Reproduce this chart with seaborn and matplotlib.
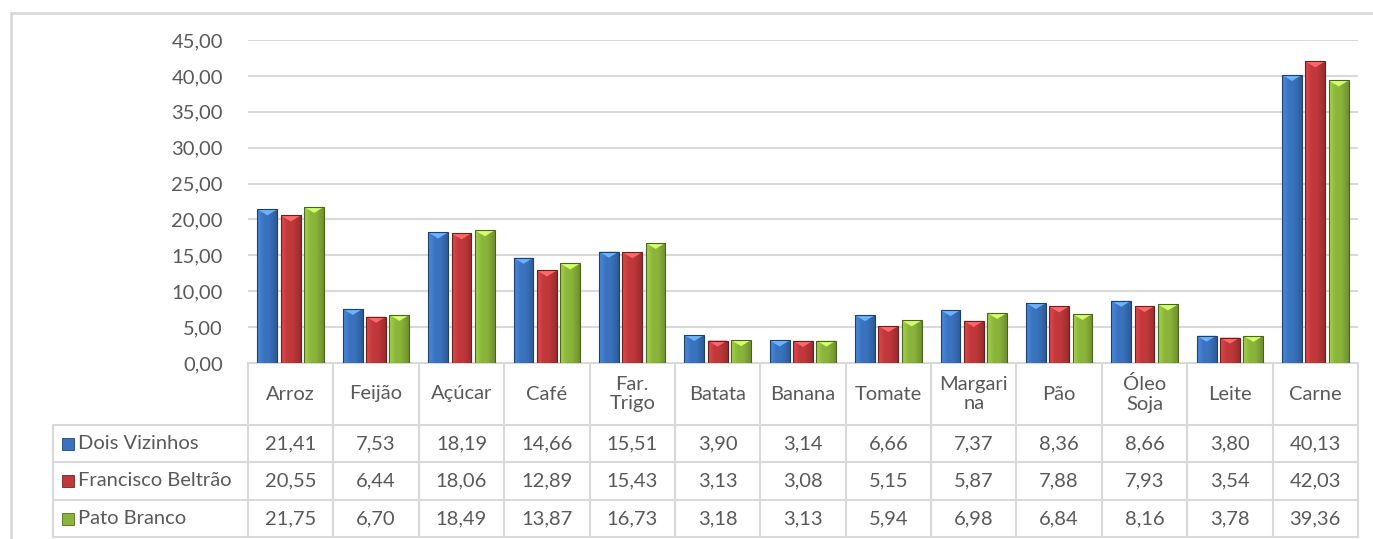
import numpy as np
import pandas as pd
import matplotlib
matplotlib.use("Agg")
import matplotlib.pyplot as plt
import matplotlib.transforms as mtransforms
from matplotlib.lines import Line2D
from matplotlib.patches import Rectangle, Polygon
from matplotlib.colors import to_rgb
import seaborn as sns

# data
produtos = ["Arroz", "Feijão", "Açúcar", "Café", "Far.\nTrigo", "Batata", "Banana",
            "Tomate", "Margari\nna", "Pão", "Óleo\nSoja", "Leite", "Carne"]
cidades = ["Dois Vizinhos", "Francisco Beltrão", "Pato Branco"]
dois_vizinhos = [21.41, 7.53, 18.19, 14.66, 15.51, 3.90, 3.14, 6.66, 7.37, 8.36, 8.66, 3.80, 40.13]
francisco_beltrao = [20.55, 6.44, 18.06, 12.89, 15.43, 3.13, 3.08, 5.15, 5.87, 7.88, 7.93, 3.54, 42.03]
pato_branco = [21.75, 6.70, 18.49, 13.87, 16.73, 3.18, 3.13, 5.94, 6.98, 6.84, 8.16, 3.78, 39.36]
y_ticks = [0, 5, 10, 15, 20, 25, 30, 35, 40, 45]

cores = ["#3A72BE", "#C0383A", "#8AB43A"]
cor_texto = "#595959"
cor_linha = "#D9D9D9"
fs = 14.5

W, H = 1373, 539

df = pd.DataFrame({
    "produto": produtos * 3,
    "cidade": [c for c in cidades for _ in produtos],
    "valor": dois_vizinhos + francisco_beltrao + pato_branco,
})

sns.set_style("white")
plt.rcParams["font.family"] = ["Lato", "DejaVu Sans"]

fig = plt.figure(figsize=(W / 100, H / 100), dpi=100)

def fx(px):
    return px / W

def fy(py):
    return 1 - py / H

ax = fig.add_axes([fx(248), fy(363), fx(1358) - fx(248), fy(40) - fy(363)])
sns.barplot(data=df, x="produto", y="valor", hue="cidade", palette=cores,
            width=0.82, gap=0.15, ax=ax, legend=False, saturation=1)

ax.set_xlim(-0.5, len(produtos) - 0.5)
ax.set_ylim(0, 45)
px_y = 45 / 323  # data units per pixel vertically

# gradient / bevel look on the bars
for patch in list(ax.patches):
    base = np.array(to_rgb(patch.get_facecolor()))
    light = np.clip(base * 1.2 + 0.06, 0, 1)
    dark = base * 0.72
    t = np.linspace(0, 1, 32)
    prof = np.where(t < 0.35, 1 - t / 0.35, 0) * 0.6 - np.where(t > 0.6, (t - 0.6) / 0.4, 0) * 0.7
    cols = np.array([base + p * (light - base) if p >= 0 else base + (-p) * (dark - base) for p in prof])
    img = cols[np.newaxis, :, :]
    x0, y0 = patch.get_x(), patch.get_y()
    w, h = patch.get_width(), patch.get_height()
    im = ax.imshow(img, extent=[x0, x0 + w, y0, y0 + h], aspect="auto", zorder=3,
                   interpolation="bilinear")
    im.set_clip_path(patch)
    # light bevel triangle at the top
    tri_h = min(6 * px_y, h)
    ax.add_patch(Polygon([[x0, y0 + h], [x0 + w, y0 + h], [x0 + w / 2, y0 + h - tri_h]],
                         closed=True, facecolor=tuple(np.clip(base * 1.3 + 0.12, 0, 1)),
                         edgecolor="none", zorder=3.5))
    patch.set_edgecolor(tuple(base * 0.55))
    patch.set_linewidth(0.8)
    patch.set_zorder(4)
    patch.set_facecolor("none")

ax.set_yticks(y_ticks)
ax.set_yticklabels([f"{v:.2f}".replace(".", ",") for v in y_ticks], fontsize=fs, color=cor_texto)
ax.tick_params(axis="y", length=0, pad=18)
ax.set_xticks([])
ax.set_xlabel("")
ax.set_ylabel("")
ax.grid(axis="y", color=cor_linha, linewidth=1.5, zorder=0)
ax.set_axisbelow(True)
for s in ax.spines.values():
    s.set_visible(False)

# data table under the bars
tr = mtransforms.blended_transform_factory(ax.transData, fig.transFigure)
n = len(produtos)
y_top, y_head, y_bot = 363, 425, 537
row_lines = [425, 462, 500, 537]

def hline(x0, x1, py, trans):
    ax.add_artist(Line2D([x0, x1], [fy(py), fy(py)], transform=trans, color=cor_linha,
                         lw=1.5, clip_on=False))

hline(-0.5, n - 0.5, y_top, tr)
for py in row_lines:
    hline(-0.5, n - 0.5, py, tr)
for i in range(n + 1):
    ax.add_artist(Line2D([i - 0.5, i - 0.5], [fy(y_top), fy(y_bot)], transform=tr,
                         color=cor_linha, lw=1.5, clip_on=False))

# label column
for py in row_lines:
    fig.add_artist(Line2D([fx(53), fx(248)], [fy(py), fy(py)], color=cor_linha, lw=1.5))
fig.add_artist(Line2D([fx(53), fx(53)], [fy(425), fy(537)], color=cor_linha, lw=1.5))

for i, p in enumerate(produtos):
    ax.text(i, fy((y_top + y_head) / 2), p, transform=tr, ha="center", va="center",
            fontsize=fs, color=cor_texto, linespacing=1.2, clip_on=False)

series = [dois_vizinhos, francisco_beltrao, pato_branco]
for r, (nome, vals, cor) in enumerate(zip(cidades, series, cores)):
    yc = (row_lines[r] + row_lines[r + 1]) / 2
    fig.add_artist(Rectangle((fx(62), fy(yc + 6)), fx(12), fy(0) - fy(12), facecolor=cor,
                             edgecolor=tuple(np.array(to_rgb(cor)) * 0.6), lw=0.6))
    fig.text(fx(78), fy(yc), nome, ha="left", va="center", fontsize=fs, color=cor_texto)
    for i, v in enumerate(vals):
        ax.text(i, fy(yc), f"{v:.2f}".replace(".", ","), transform=tr, ha="center",
                va="center", fontsize=fs, color=cor_texto, clip_on=False)

# outer chart frame (cropped at right and bottom)
fig.add_artist(Rectangle((fx(11), fy(560)), fx(1400) - fx(11), fy(13) - fy(560),
                         facecolor="none", edgecolor="#D9D9D9", lw=2))

fig.savefig("out.png", dpi=100)
